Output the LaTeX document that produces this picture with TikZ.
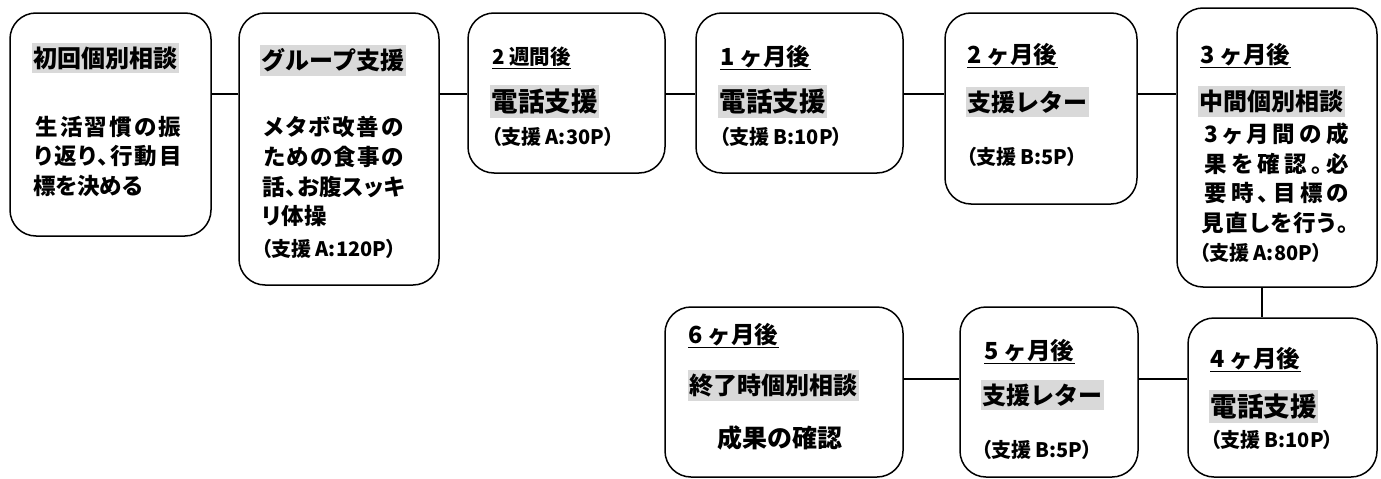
\documentclass[tikz,border=0pt]{standalone}
\usepackage{fontspec}
\setmainfont{Noto Sans CJK JP}
\newfontfamily\jpp{Noto Sans CJK JP}[RawFeature=+palt]
\definecolor{hlgray}{HTML}{D9D9D9}
\newcommand{\fsz}[1]{\fontsize{#1}{#1}\selectfont}
\makeatletter
\def\spreadchars#1{\spr@ad#1\@nil}
\def\spr@ad#1#2{#1\ifx\@nil#2\else\hfil\expandafter\spr@ad\expandafter#2\fi}
\makeatother
\newcommand{\jline}[2]{\makebox[#1]{\spreadchars{#2}}}
\newcommand{\fsub}{\jpp\bfseries\fsz{20}}
\newcommand{\fbody}{\jpp\bfseries\fsz{22.5}}
\newcommand{\fhead}{\bfseries\fsz{24}}
\newcommand{\fbig}{\bfseries\fsz{26.5}}
\newcommand{\fdate}{\bfseries\fsz{23.5}}
\newcommand{\fsmall}{\bfseries\fsz{20.5}}
\tikzset{
  box/.style={draw, line width=1.5pt, rounded corners=26pt, inner sep=0pt},
  tx/.style={inner sep=0pt, anchor=west},
  hl/.style={fill=hlgray, inner xsep=1.5pt, inner ysep=4pt, anchor=west},
  ln/.style={line width=1.5pt},
  ul/.style={line width=1.3pt}
}
\begin{document}
\begin{tikzpicture}[x=1pt, y=-1pt]
\useasboundingbox (0,0) rectangle (1381,479);
% boxes
\node[box, minimum width=201pt, minimum height=223pt] (b1) at (110.5,124.5) {};
\node[box, minimum width=200pt, minimum height=272pt] (b2) at (339,149) {};
\node[box, minimum width=197pt, minimum height=160pt] (b3) at (566.5,93) {};
\node[box, minimum width=207pt, minimum height=160pt] (b4) at (799.5,93) {};
\node[box, minimum width=192pt, minimum height=191pt] (b5) at (1041,108.5) {};
\node[box, minimum width=200pt, minimum height=279pt] (b6) at (1277,147.5) {};
\node[box, minimum width=189pt, minimum height=159pt] (b7) at (1282.5,397.5) {};
\node[box, minimum width=178pt, minimum height=170pt] (b8) at (1049,392) {};
\node[box, minimum width=238pt, minimum height=170pt] (b9) at (784,392) {};
% connectors
\coordinate (ty) at (0,94);
\coordinate (by) at (0,379);
\coordinate (vx) at (1262,0);
\draw[ln] (b1.east |- ty) -- (b2.west |- ty);
\draw[ln] (b2.east |- ty) -- (b3.west |- ty);
\draw[ln] (b3.east |- ty) -- (b4.west |- ty);
\draw[ln] (b4.east |- ty) -- (b5.west |- ty);
\draw[ln] (b5.east |- ty) -- (b6.west |- ty);
\draw[ln] (vx |- b6.south) -- (vx |- b7.north);
\draw[ln] (b9.east |- by) -- (b8.west |- by);
\draw[ln] (b8.east |- by) -- (b7.west |- by);
% box 1
\node[hl, font=\fhead] (t1h) at (32,58) {初回個別相談};
\node[tx, font=\fbody] (t1a) at (33,127) {\jline{150pt}{生活習慣の振}};
\node[tx, font=\fbody] (t1b) at (33,156.5) {\jline{150pt}{り返り、行動目}};
\node[tx, font=\fbody] (t1c) at (33,186) {標を決める};
% box 2
\node[hl, font=\fhead] (t2h) at (260,60.5) {グループ支援};
\node[tx, font=\fbody] (t2a) at (262,127) {\jline{143pt}{メタボ改善の}};
\node[tx, font=\fbody] (t2b) at (262,157) {\jline{143pt}{ための食事の}};
\node[tx, font=\fbody] (t2c) at (262,187) {\jline{143pt}{話、お腹スッキ}};
\node[tx, font=\fbody] (t2d) at (262,216) {リ体操};
\node[tx, font=\fsub] (t2s) at (261,249) {（支援 A:120P）};
% box 3
\node[tx, font=\fsmall] (d3) at (492,57) {2 週間後};
\draw[ul] ([yshift=-3.5pt]d3.base west) -- ([yshift=-3.5pt]d3.base east);
\node[hl, font=\fbig] (t3h) at (490,101.5) {電話支援};
\node[tx, font=\fsub] (t3s) at (491,137) {（支援 A:30P）};
% box 4
\node[tx, font=\fdate] (d4) at (720,57) {1 ヶ月後};
\draw[ul] ([yshift=-3.5pt]d4.base west) -- ([yshift=-3.5pt]d4.base east);
\node[hl, font=\fbig] (t4h) at (718,101.5) {電話支援};
\node[tx, font=\fsub] (t4s) at (719,137) {（支援 B:10P）};
% box 5
\node[tx, font=\fdate] (d5) at (967,55) {2 ヶ月後};
\draw[ul] ([yshift=-3.5pt]d5.base west) -- ([yshift=-3.5pt]d5.base east);
\node[hl, font=\fhead] (t5h) at (966,102) {支援レター};
\node[tx, font=\fsub] (t5s) at (966,157) {（支援 B:5P）};
% box 6
\node[tx, font=\fdate] (d6) at (1200,55) {3 ヶ月後};
\draw[ul] ([yshift=-3.5pt]d6.base west) -- ([yshift=-3.5pt]d6.base east);
\node[hl, font=\fhead] (t6h) at (1198,101.5) {中間個別相談};
\node[tx, font=\fbody] (t6a) at (1200,134) {\jline{153pt}{3ヶ月間の成}};
\node[tx, font=\fbody] (t6b) at (1200,163.5) {\jline{153pt}{果を確認。必}};
\node[tx, font=\fbody] (t6c) at (1200,193) {\jline{153pt}{要時、目標の}};
\node[tx, font=\fbody] (t6d) at (1200,222.5) {\jline{150pt}{見直しを行う。}};
\node[tx, font=\fsub] (t6s) at (1199,253) {（支援 A:80P）};
% box 9 (6 months)
\node[tx, font=\fdate] (d9) at (688,335) {6 ヶ月後};
\draw[ul] ([yshift=-3.5pt]d9.base west) -- ([yshift=-3.5pt]d9.base east);
\node[hl, font=\fhead] (t9h) at (688,385.5) {終了時個別相談};
\node[tx, font=\bfseries\fsz{25}] (t9a) at (717,438) {成果の確認};
% box 8 (5 months)
\node[tx, font=\fdate] (d8) at (984,351) {5 ヶ月後};
\draw[ul] ([yshift=-3.5pt]d8.base west) -- ([yshift=-3.5pt]d8.base east);
\node[hl, font=\fhead] (t8h) at (981,395) {支援レター};
\node[tx, font=\fsub] (t8s) at (981,450) {（支援 B:5P）};
% box 7 (4 months)
\node[tx, font=\fdate] (d7) at (1210,359) {4 ヶ月後};
\draw[ul] ([yshift=-3.5pt]d7.base west) -- ([yshift=-3.5pt]d7.base east);
\node[hl, font=\fbig] (t7h) at (1209,406.5) {電話支援};
\node[tx, font=\fsub] (t7s) at (1210,440) {（支援 B:10P）};
\end{tikzpicture}
\end{document}
